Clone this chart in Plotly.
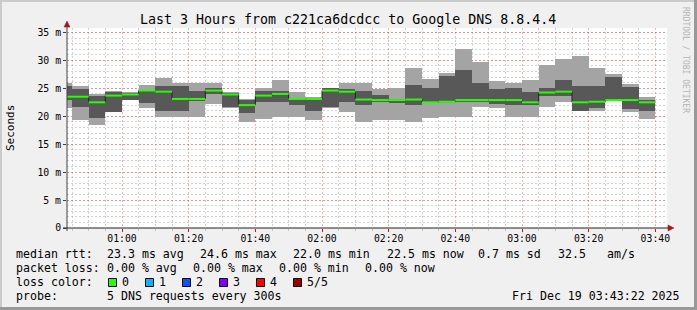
import plotly.graph_objects as go

# ---------------- data ----------------
DAY = "2025-12-19 "
step_start = ["00:40", "00:45", "00:50", "00:55", "01:00", "01:05", "01:10", "01:15", "01:20",
              "01:25", "01:30", "01:35", "01:40", "01:45", "01:50", "01:55", "02:00", "02:05",
              "02:10", "02:15", "02:20", "02:25", "02:30", "02:35", "02:40", "02:45", "02:50",
              "02:55", "03:00", "03:05", "03:10", "03:15", "03:20", "03:25", "03:30", "03:35"]
last_end = "03:40"

# sorted ping RTTs per 5-minute step (ms)
ping_min = [21.5, 19.35, 18.5, 20.7, 22.9, 21.5, 19.95, 19.95, 19.95, 22.2, 21.4, 19.05,
            19.5, 19.95, 19.95, 19.35, 21.45, 20.85, 19.05, 19.35, 19.35, 19.05, 19.65, 19.95,
            19.95, 21.6, 21.4, 19.95, 19.95, 21.6, 22.5, 20.9, 21.0, 22.7, 20.85, 19.5]
ping_lo = [23.0, 21.6, 19.7, 20.7, 23.0, 22.4, 21.0, 21.0, 22.7, 24.0, 21.7, 20.6,
           22.6, 22.5, 22.0, 21.0, 21.7, 22.5, 22.1, 22.6, 22.4, 22.1, 22.4, 22.5,
           22.5, 22.6, 22.2, 22.0, 22.0, 23.65, 23.7, 21.0, 21.4, 22.8, 21.3, 20.97]
median_rtt = [23.5, 23.5, 22.5, 23.7, 23.9, 24.6, 24.4, 23.1, 23.1, 24.6, 23.9, 22.0,
              23.7, 24.0, 23.1, 23.1, 24.6, 24.4, 23.0, 22.9, 22.9, 23.0, 22.5, 22.6,
              22.9, 22.9, 22.9, 22.9, 22.5, 24.25, 24.4, 22.5, 22.6, 22.9, 22.9, 22.5]
ping_hi = [25.4, 24.9, 23.7, 24.3, 24.2, 24.7, 25.4, 25.4, 24.6, 25.0, 24.2, 23.0,
           24.6, 24.6, 23.2, 23.35, 25.0, 24.8, 24.5, 23.8, 23.1, 25.6, 25.1, 27.2,
           28.3, 26.0, 24.9, 25.1, 24.4, 25.0, 26.5, 25.4, 25.4, 27.1, 25.2, 22.9]
ping_max = [26.0, 25.4, 24.0, 24.6, 24.4, 25.6, 26.9, 26.0, 26.0, 26.0, 24.4, 23.1,
            25.0, 26.5, 24.4, 23.5, 25.1, 26.0, 26.0, 24.9, 25.1, 28.7, 26.7, 27.7,
            32.1, 29.7, 26.3, 26.0, 26.5, 29.2, 30.3, 30.7, 28.7, 27.6, 25.8, 23.4]

y_tick_vals = [0, 5, 10, 15, 20, 25, 30, 35]
y_tick_text = ["0", "5 m", "10 m", "15 m", "20 m", "25 m", "30 m", "35 m"]

title_text = "Last 3 Hours from c221ca6dcdcc to Google DNS 8.8.4.4"
rtt_labels = ["median rtt:", "23.3 ms avg", "24.6 ms max", "22.0 ms min", "22.5 ms now",
              "0.7 ms sd", "32.5", "am/s"]
loss_labels = ["packet loss:", "0.00 % avg", "0.00 % max", "0.00 % min", "0.00 % now"]
loss_color_names = ["0", "1", "2", "3", "4", "5/5"]
loss_colors = ["#26ff00", "#00b8ff", "#0059ff", "#7e00ff", "#ff0000", "#a10000"]
probe_text = "5 DNS requests every 300s"
date_text = "Fri Dec 19 03:43:22 2025"

# ---------------- layout constants ----------------
WIDTH, HEIGHT = 697, 310
L, T, PW, PH = 67, 28, 600, 200
R = WIDTH - L - PW
B = HEIGHT - T - PH
MONO = "DejaVu Sans Mono"


def fx(px):
    return (px - L) / PW


def fy(py):
    return (T + PH - py) / PH


xs = [DAY + t for t in step_start]
x_ends = xs[1:] + [DAY + last_end]
STEP_MS = 300000

fig = go.Figure()

# outer smoke: min..max
fig.add_trace(go.Bar(
    x=xs, y=[b - a for a, b in zip(ping_min, ping_max)], base=ping_min,
    width=STEP_MS, offset=0, marker=dict(color="#a4a4a4", line=dict(width=0)),
    hoverinfo="skip", showlegend=False))
# inner smoke: 2nd..4th
fig.add_trace(go.Bar(
    x=xs, y=[b - a for a, b in zip(ping_lo, ping_hi)], base=ping_lo,
    width=STEP_MS, offset=0, marker=dict(color="#585858", line=dict(width=0)),
    hoverinfo="skip", showlegend=False))
# dark median step line
fig.add_trace(go.Scatter(
    x=xs + [x_ends[-1]], y=median_rtt + [median_rtt[-1]], mode="lines",
    line=dict(color="#202020", width=1, shape="hv"), hoverinfo="skip", showlegend=False))
# green median segments (loss 0)
gx, gy = [], []
for s, e, m in zip(xs, x_ends, median_rtt):
    gx += [s, e, None]
    gy += [m, m, None]
fig.add_trace(go.Scatter(
    x=gx, y=gy, mode="lines", line=dict(color=loss_colors[0], width=2),
    hoverinfo="skip", showlegend=False))

major_grid = "rgba(255,0,0,0.30)"
minor_grid = "rgba(150,150,150,0.42)"

fig.update_layout(
    width=WIDTH, height=HEIGHT,
    margin=dict(l=L, r=R, t=T, b=B, pad=0),
    paper_bgcolor="#f0f0f0", plot_bgcolor="#ffffff",
    barmode="overlay", bargap=0,
    showlegend=False,
    font=dict(family=MONO, size=10, color="#000000"),
    xaxis=dict(
        type="date",
        range=[DAY + "00:43:30", DAY + "03:43:30"],
        tick0=DAY + "00:00", dtick=1200000, tickformat="%H:%M",
        showgrid=True, gridcolor=major_grid, griddash="2px,2px", gridwidth=1,
        ticks="outside", ticklen=3, tickcolor="#ff0000",
        ticklabelstandoff=-2,
        tickfont=dict(family=MONO, size=9.8, color="#000000"),
        showline=False, zeroline=False,
        minor=dict(dtick=300000, tick0=DAY + "00:00", showgrid=True, gridcolor=minor_grid,
                   griddash="2px,2px", gridwidth=1, ticks="outside", ticklen=2,
                   tickcolor="#c0c0c0"),
        fixedrange=True,
    ),
    yaxis=dict(
        range=[0, 35.8],
        tickvals=y_tick_vals, ticktext=y_tick_text,
        showgrid=True, gridcolor=major_grid, griddash="2px,2px", gridwidth=1,
        ticks="outside", ticklen=3, tickcolor="#404040",
        tickfont=dict(family=MONO, size=9.8, color="#000000"),
        showline=False, zeroline=False,
        minor=dict(dtick=1, tick0=0, showgrid=True, gridcolor=minor_grid,
                   griddash="2px,2px", gridwidth=1),
        fixedrange=True,
    ),
)

shapes = []
# frame (rrdtool shade)
shapes.append(dict(type="line", xref="paper", yref="paper", x0=fx(0), x1=fx(WIDTH), y0=fy(1), y1=fy(1),
                   line=dict(color="#cbcbcb", width=2)))
shapes.append(dict(type="line", xref="paper", yref="paper", x0=fx(1), x1=fx(1), y0=fy(0), y1=fy(HEIGHT),
                   line=dict(color="#cbcbcb", width=2)))
shapes.append(dict(type="line", xref="paper", yref="paper", x0=fx(0), x1=fx(WIDTH), y0=fy(HEIGHT - 1.5),
                   y1=fy(HEIGHT - 1.5), line=dict(color="#999999", width=3)))
shapes.append(dict(type="line", xref="paper", yref="paper", x0=fx(WIDTH - 1.5), x1=fx(WIDTH - 1.5),
                   y0=fy(0), y1=fy(HEIGHT), line=dict(color="#999999", width=3)))
# axes
shapes.append(dict(type="line", xref="paper", yref="paper", x0=fx(L), x1=fx(L), y0=fy(231), y1=fy(25),
                   line=dict(color="#404040", width=1)))
shapes.append(dict(type="line", xref="paper", yref="paper", x0=fx(63), x1=fx(669), y0=fy(228), y1=fy(228),
                   line=dict(color="#202020", width=1)))
# arrows
shapes.append(dict(type="path", xref="paper", yref="paper",
                   path="M {},{} L {},{} L {},{} Z".format(fx(L), fy(21), fx(L - 3), fy(27), fx(L + 3), fy(27)),
                   fillcolor="#a01818", line=dict(color="#a01818", width=0.5)))
shapes.append(dict(type="path", xref="paper", yref="paper",
                   path="M {},{} L {},{} L {},{} Z".format(fx(674), fy(228), fx(668), fy(225), fx(668), fy(231)),
                   fillcolor="#a01818", line=dict(color="#a01818", width=0.5)))
# loss colour swatches
swatch_x = [108.5, 145.5, 182.5, 219.5, 256.5, 293.5]
for sx, col in zip(swatch_x, loss_colors):
    shapes.append(dict(type="rect", xref="paper", yref="paper",
                       x0=fx(sx), x1=fx(sx + 8), y0=fy(278.5), y1=fy(286.5),
                       fillcolor=col, line=dict(color="#000000", width=1)))
fig.update_layout(shapes=shapes)

ann = []


def text(x, y, s, size=11.6, anchor="left", color="#000000", angle=0):
    ann.append(dict(xref="paper", yref="paper", x=fx(x), y=fy(y), text=s, showarrow=False,
                    xanchor=anchor, yanchor="middle", textangle=angle,
                    borderpad=0, borderwidth=0,
                    font=dict(family=MONO, size=size, color=color)))


text(347.5, 19, title_text, size=13.3, anchor="center")
text(10, 128, "Seconds", size=11, anchor="center", angle=-90)
text(686, 60, "RRDTOOL / TOBI OETIKER", size=8, anchor="center", color="#b4b4b4", angle=90)

rtt_x = [16, 107.3, 200, 293.3, 386.7, 478.3, 558.3, 606.7]
for xx, s in zip(rtt_x, rtt_labels):
    text(xx, 254, s)
loss_x = [16, 107.3, 193.3, 279.3, 365]
for xx, s in zip(loss_x, loss_labels):
    text(xx, 268, s)
text(16, 282, "loss color:")
label_x = [121.7, 158.7, 195.7, 232.7, 269.7, 306.7]
for xx, s in zip(label_x, loss_color_names):
    text(xx, 282, s)
text(16, 296, "probe:")
text(107.3, 296, probe_text)
text(680, 296, date_text, anchor="right")

fig.update_layout(annotations=ann)

fig.write_html("out.html")
